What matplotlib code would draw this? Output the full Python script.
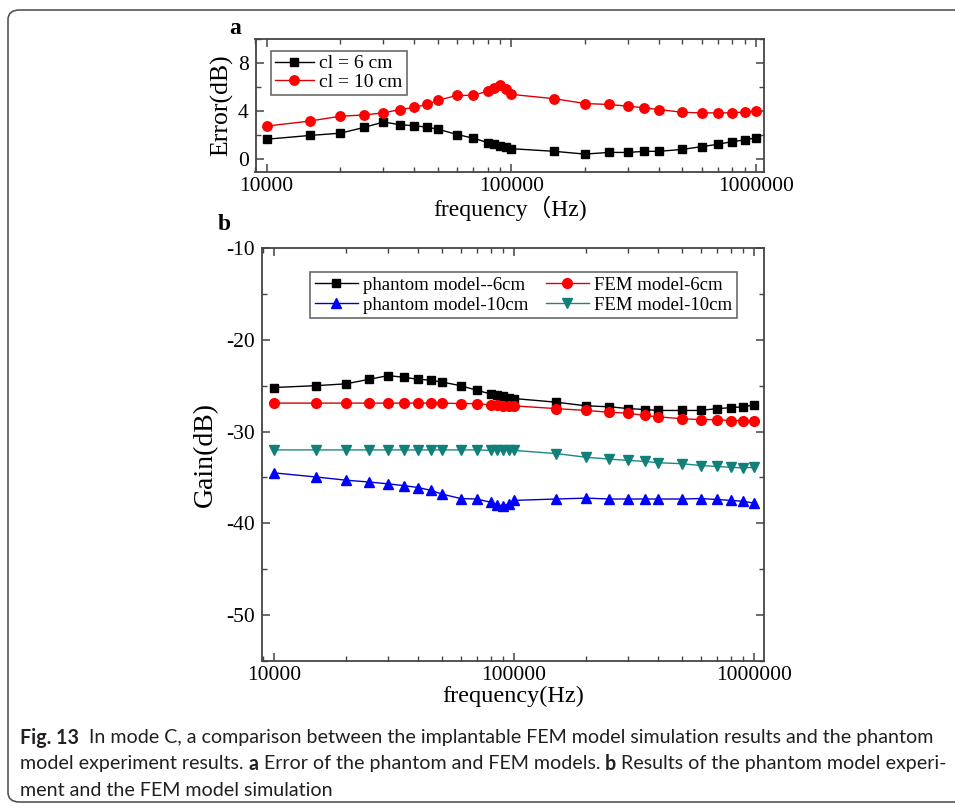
import matplotlib
import matplotlib.pyplot as plt
from matplotlib.patches import FancyBboxPatch
from matplotlib.ticker import FixedLocator, NullFormatter, LogLocator

matplotlib.use('Agg')

freq = [10000, 15000, 20000, 25000, 30000, 35000, 40000, 45000, 50000, 60000,
        70000, 80000, 85000, 90000, 95000, 100000, 150000, 200000, 250000,
        300000, 350000, 400000, 500000, 600000, 700000, 800000, 900000, 1000000]

# panel a: error (dB)
err_6cm = [1.66, 1.97, 2.16, 2.64, 3.09, 2.87, 2.78, 2.67, 2.5, 2.05, 1.74, 1.38,
           1.24, 1.1, 0.98, 0.87, 0.65, 0.42, 0.56, 0.56, 0.65, 0.65, 0.81, 1.04,
           1.24, 1.46, 1.6, 1.77]
err_10cm = [2.75, 3.17, 3.57, 3.68, 3.85, 4.13, 4.3, 4.55, 4.89, 5.31, 5.31, 5.67,
            5.93, 6.15, 5.87, 5.39, 5.03, 4.63, 4.55, 4.41, 4.27, 4.13, 3.9, 3.85,
            3.85, 3.85, 3.93, 4.04]

# panel b: gain (dB)
phantom_6cm = [-25.2, -25.0, -24.8, -24.3, -23.9, -24.1, -24.3, -24.4, -24.6, -25.0,
               -25.5, -25.9, -26.0, -26.1, -26.3, -26.4, -26.8, -27.2, -27.3, -27.5,
               -27.6, -27.7, -27.7, -27.7, -27.5, -27.4, -27.3, -27.1]
fem_6cm = [-26.9, -26.9, -26.9, -26.9, -26.9, -26.9, -26.9, -26.9, -26.9, -26.95,
           -26.95, -27.1, -27.15, -27.2, -27.2, -27.2, -27.5, -27.7, -27.9, -28.0,
           -28.25, -28.4, -28.6, -28.7, -28.7, -28.8, -28.8, -28.9]
phantom_10cm = [-34.5, -34.95, -35.3, -35.5, -35.7, -35.9, -36.1, -36.4, -36.8, -37.3,
                -37.35, -37.7, -38.0, -38.1, -37.9, -37.5, -37.35, -37.25, -37.35, -37.35,
                -37.35, -37.35, -37.35, -37.3, -37.4, -37.5, -37.6, -37.8]
fem_10cm = [-32.0, -32.0, -32.0, -32.0, -32.0, -32.0, -32.0, -32.0, -32.0, -32.0,
            -32.0, -32.05, -32.05, -32.05, -32.05, -32.05, -32.4, -32.8, -33.0, -33.15,
            -33.25, -33.4, -33.5, -33.7, -33.8, -33.9, -33.95, -33.9]

x_ticks = [10000, 100000, 1000000]
x_ticklabels = ['10000', '100000', '1000000']

plt.rcParams['font.family'] = ['Liberation Serif', 'Noto Sans CJK SC']

W, H = 955, 810
fig = plt.figure(figsize=(W / 100, H / 100), dpi=100)

spine_c = '#444444'


def style_axes(ax):
    ax.set_xscale('log')
    for s in ax.spines.values():
        s.set_color(spine_c)
        s.set_linewidth(1.3)
    ax.tick_params(which='both', direction='in', top=True, right=True,
                   colors=spine_c, labelcolor='black', labelsize=15.5)
    ax.tick_params(which='major', length=6, width=1.1)
    ax.tick_params(which='minor', length=3.5, width=1.0)
    ax.tick_params(axis='y', pad=5)
    ax.xaxis.set_major_locator(FixedLocator(x_ticks))
    ax.set_xticklabels(x_ticklabels)
    ax.xaxis.set_minor_locator(LogLocator(base=10, subs=range(2, 10)))
    ax.xaxis.set_minor_formatter(NullFormatter())


# ---- panel a ----
ax1 = fig.add_axes([255.5 / W, 1 - 172 / H, 508.5 / W, 133 / H])
style_axes(ax1)
ax1.plot(freq, err_6cm, '-s', color='black', lw=1, ms=6, label='cl = 6 cm')
ax1.plot(freq, err_10cm, '-o', color='#dd0000', mfc='red', mec='red', lw=1, ms=6.8,
         label='cl = 10 cm')
ax1.set_xlim(9000, 1.078e6)
ax1.set_ylim(-1.07, 10)
ax1.set_yticks([0, 4, 8])
ax1.set_yticks([2, 6, 10], minor=True)
ax1.set_xlabel('frequency（Hz)', fontsize=17, labelpad=0)
ax1.set_ylabel('Error(dB)', fontsize=18.5, labelpad=3)
leg1 = ax1.legend(loc='upper left', bbox_to_anchor=(0.03, 0.91), fontsize=14,
                  frameon=True, fancybox=False, edgecolor=spine_c,
                  handlelength=2.0, labelspacing=0.05, borderpad=0.2,
                  handletextpad=0.3, borderaxespad=0)
leg1.get_frame().set_linewidth(1.2)
fig.text(235 / W, 1 - 28 / H, 'a', fontsize=17, fontweight='bold', ha='center', va='center')

# ---- panel b ----
ax2 = fig.add_axes([262.3 / W, 1 - 661 / H, 502.1 / W, 413 / H])
style_axes(ax2)
l1, = ax2.plot(freq, phantom_6cm, '-s', color='black', lw=1, ms=6.3,
               label='phantom model--6cm')
l2, = ax2.plot(freq, fem_6cm, '-o', color='#dd0000', mfc='red', mec='red', lw=1, ms=7,
               label='FEM model-6cm')
l3, = ax2.plot(freq, phantom_10cm, '-^', color='#0000cc', mfc='#0000ff', mec='#0000ff',
               lw=1, ms=7.3, label='phantom model-10cm')
l4, = ax2.plot(freq, fem_10cm, '-v', color='#1a8a80', mfc='#108078', mec='#108078',
               lw=1, ms=7.3, label='FEM model-10cm')
ax2.set_xlim(8955, 1.105e6)
ax2.set_ylim(-55, -10)
ax2.set_yticks([-10, -20, -30, -40, -50])
ax2.set_yticklabels(['-10', '-20', '-30', '-40', '-50'])
ax2.set_yticks([-15, -25, -35, -45, -55], minor=True)
ax2.set_xlabel('frequency(Hz)', fontsize=17.5, labelpad=1)
ax2.set_ylabel('Gain(dB)', fontsize=20, labelpad=6)
leg2 = ax2.legend(handles=[l1, l3, l2, l4], loc='upper left', bbox_to_anchor=(0.095, 0.942),
                  ncol=2, fontsize=13.5,
                  frameon=True, fancybox=False, edgecolor=spine_c,
                  handlelength=2.3, labelspacing=0.15, borderpad=0.25,
                  handletextpad=0.3, columnspacing=0.9, borderaxespad=0)
leg2.get_frame().set_linewidth(1.2)
fig.text(224 / W, 1 - 225 / H, 'b', fontsize=17, fontweight='bold', ha='center', va='center')

# ---- outer frame ----
frame = FancyBboxPatch((8 / W, 8 / H), 990 / W, 792 / H,
                       boxstyle='round,pad=0,rounding_size=0.012',
                       transform=fig.transFigure, fill=False,
                       edgecolor='#555555', linewidth=1.2, clip_on=False)
fig.patches.append(frame)

# ---- caption ----
cap_font = ['Lato', 'DejaVu Sans']
cap_lines = [
    [('Fig. 13', 'bold'), ('  In mode C, a comparison between the implantable FEM model '
                          'simulation results and the phantom', 'normal')],
    [('model experiment results. ', 'normal'), ('a', 'bold'),
     (' Error of the phantom and FEM models. ', 'normal'), ('b', 'bold'),
     (' Results of the phantom model experi-', 'normal')],
    [('ment and the FEM model simulation', 'normal')],
]
cap_y = [738, 764, 790]
fig.canvas.draw()
renderer = fig.canvas.get_renderer()
for segs, yy in zip(cap_lines, cap_y):
    xx = 20
    for txt, wt in segs:
        t = fig.text(xx / W, 1 - yy / H, txt, fontsize=14.1, fontweight=wt,
                     family=cap_font, color='#231f20', va='center', ha='left')
        bb = t.get_window_extent(renderer)
        xx += bb.width

fig.savefig('out.png', dpi=100)
